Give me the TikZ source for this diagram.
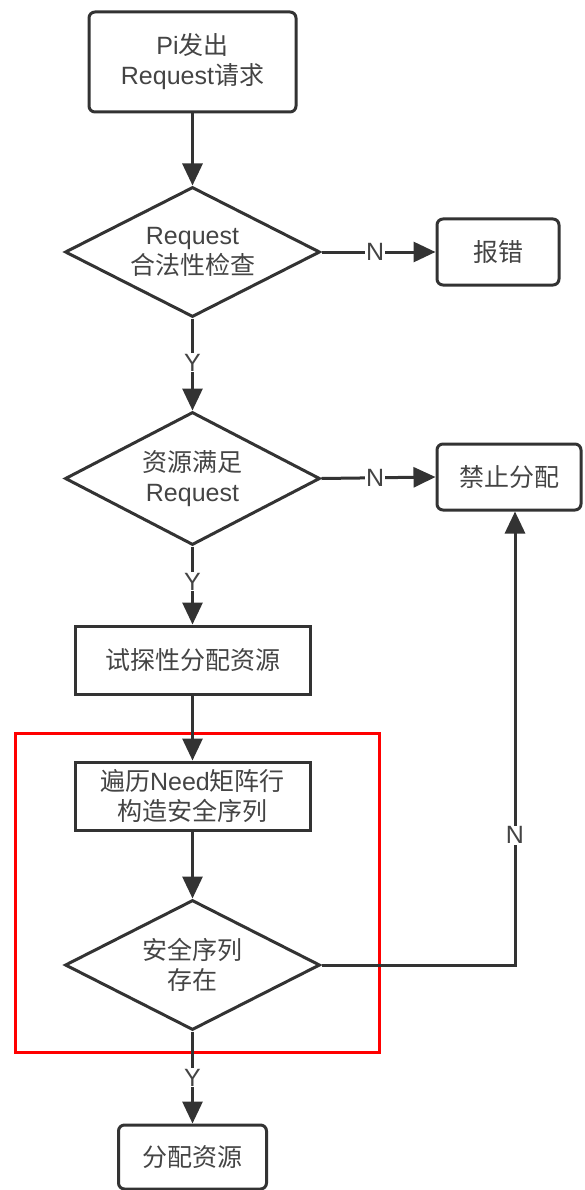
\documentclass[tikz,border=0pt]{standalone}
\usepackage{fontspec}
\setmainfont{Noto Sans CJK SC}
\newfontfamily\latf{Liberation Sans}
\usetikzlibrary{shapes.geometric,arrows.meta}
\definecolor{lc}{HTML}{333333}
\definecolor{tc}{HTML}{444444}
\newcommand{\lt}[1]{{\latf #1}}
\begin{document}
\begin{tikzpicture}[x=1pt,y=-1pt,
  every node/.style={font=\fontsize{25}{30}\selectfont, text=tc, align=center},
  rbox/.style={draw=lc, line width=3pt, rounded corners=6pt, rectangle, inner sep=0pt},
  sbox/.style={draw=lc, line width=3pt, rectangle, inner sep=0pt},
  dia/.style={draw=lc, line width=3pt, diamond, aspect=2, inner sep=0pt, minimum width=255pt, minimum height=130pt},
  conn/.style={draw=lc, line width=3pt, -{Triangle[length=22pt,width=20pt]}},
  lbl/.style={fill=white, inner sep=1pt}
]
\useasboundingbox (0,0) rectangle (584,1190);

\node[rbox, minimum width=207pt, minimum height=100pt] (start) at (192.5,62) {\lt{Pi}发出\\\lt{Request}请求};
\node[dia] (d1) at (192.5,252) {\lt{Request}\\合法性检查};
\node[rbox, minimum width=122pt, minimum height=66pt] (err) at (498,252) {报错};
\node[dia, minimum height=133pt] (d2) at (192.5,478.5) {资源满足\\\lt{Request}};
\node[rbox, minimum width=144pt, minimum height=66pt] (deny) at (509,477) {禁止分配};
\node[sbox, minimum width=235pt, minimum height=68pt] (try) at (192.5,660) {试探性分配资源};
\node[sbox, minimum width=235pt, minimum height=68pt] (walk) at (192.5,796) {遍历\lt{Need}矩阵行\\构造安全序列};
\node[dia] (d3) at (192.5,965) {安全序列\\存在};
\node[rbox, minimum width=148pt, minimum height=64pt] (alloc) at (192.5,1157) {分配资源};

\draw[red, line width=3pt] (15,733) rectangle (379,1052);

\draw[conn] (start.south) -- (d1.north);
\draw[conn] (d1.east) -- node[pos=0.47, lbl] {\lt{N}} (err.west);
\draw[conn] (d1.south) -- node[pos=0.48, lbl] {\lt{Y}} (d2.north);
\draw[conn] (d2.east) -- node[pos=0.47, lbl] {\lt{N}} (deny.west);
\draw[conn] (d2.south) -- node[pos=0.45, lbl] {\lt{Y}} (try.north);
\draw[conn] (try.south) -- (walk.north);
\draw[conn] (walk.south) -- (d3.north);
\draw[conn] (d3.east) -| node[pos=0.643, lbl] {\lt{N}} (deny.south -| 515,0);
\draw[conn] (d3.south) -- node[pos=0.5, lbl] {\lt{Y}} (alloc.north);
\end{tikzpicture}
\end{document}
